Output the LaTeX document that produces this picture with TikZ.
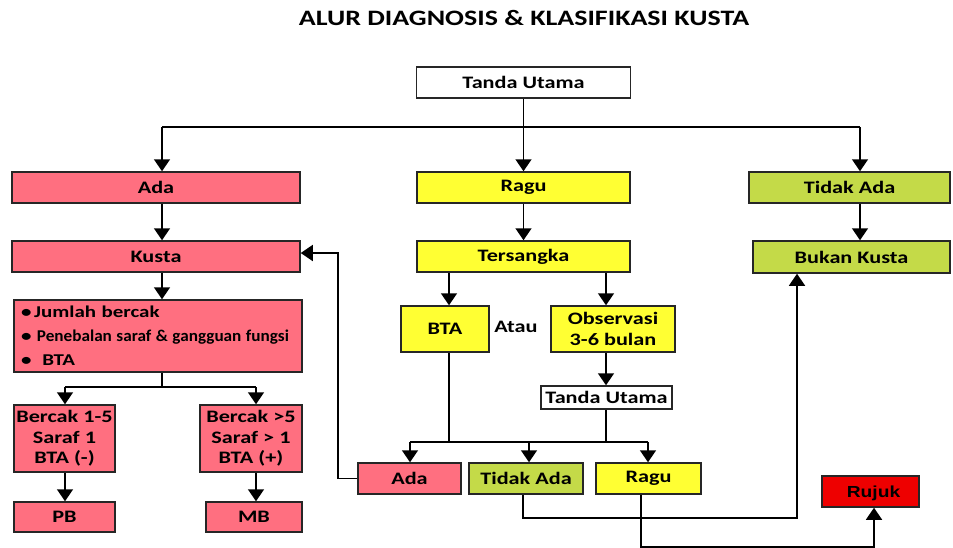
\documentclass[tikz,border=0pt]{standalone}
\usepackage{graphicx}
\usepackage{fontspec}
\setmainfont{Carlito}[FakeStretch=1.27]
\newfontfamily\arialbold{Liberation Sans}[FakeStretch=1.2]
\usetikzlibrary{arrows.meta}

\definecolor{kpink}{RGB}{255,111,128}
\definecolor{kyellow}{RGB}{255,255,51}
\definecolor{kgreen}{RGB}{196,218,72}
\definecolor{kred}{RGB}{238,0,0}

\begin{document}
\begin{tikzpicture}[x=1pt,y=-1pt,
  box/.style={draw=black!85,line width=1.5pt,inner sep=0pt,align=center,
    font=\bfseries\fontsize{17.5}{20.5}\selectfont},
  pinkbox/.style={box,fill=kpink},
  yellowbox/.style={box,fill=kyellow},
  greenbox/.style={box,fill=kgreen},
  arr/.style={line width=1.5pt,-{Triangle[width=16pt,length=12pt]}},
  ln/.style={line width=1.5pt}]
\useasboundingbox (0,0) rectangle (953,547);

% title
\node[font=\bfseries\fontsize{22}{26}\selectfont] (title) at (524,18) {ALUR DIAGNOSIS \& KLASIFIKASI KUSTA};

% top
\node[box,fill=white,minimum width=214pt,minimum height=31pt] (top) at (523.5,82.5) {Tanda Utama};

% left column
\node[pinkbox,minimum width=288pt,minimum height=72pt,text width=274pt,align=left,inner xsep=7pt,
  font=\bfseries\fontsize{16.5}{24}\selectfont] (crit) at (158,336)
  {\textbullet\,Jumlah bercak\\
   \textbullet\ \scalebox{0.82}[1]{Penebalan saraf \& gangguan fungsi}\\
   \textbullet\ \ BTA};
\node[pinkbox,minimum width=288pt,minimum height=31pt] (ada) at (156,187.5) {Ada};
\node[pinkbox,minimum width=288pt,minimum height=31pt] (kusta) at (156,256.5) {Kusta};
\node[pinkbox,minimum width=101pt,minimum height=67pt] (b15) at (64.5,438.5) {Bercak 1-5\\ Saraf 1\\ BTA (-)};
\node[pinkbox,minimum width=102pt,minimum height=67pt] (b5) at (251,438.5) {Bercak >5\\ Saraf > 1\\ BTA (+)};
\node[pinkbox,minimum width=101pt,minimum height=30pt] (pb) at (64.5,517) {PB};
\node[pinkbox,minimum width=96pt,minimum height=30pt] (mb) at (254,517) {MB};

% middle column
\node[yellowbox,minimum width=213pt,minimum height=31pt] (ragu) at (523.5,187.5) {Ragu};
\node[yellowbox,minimum width=213pt,minimum height=31pt] (ters) at (523.5,256.5) {Tersangka};
\node[yellowbox,minimum width=88pt,minimum height=46pt] (bta) at (445,329) {BTA};
\node[font=\bfseries\fontsize{17.5}{20}\selectfont] (atau) at (516,327) {Atau};
\node[yellowbox,minimum width=124pt,minimum height=46pt] (obs) at (613,329) {Observasi\\ 3-6 bulan};
\node[box,fill=white,minimum width=131pt,minimum height=23pt] (tu2) at (606.5,397.5) {Tanda Utama};
\node[pinkbox,minimum width=103pt,minimum height=31pt] (ada2) at (409.5,478.5) {Ada};
\node[greenbox,minimum width=114pt,minimum height=31pt] (tid2) at (526,478.5) {Tidak Ada};
\node[yellowbox,minimum width=105pt,minimum height=31pt] (ragu2) at (648.5,478.5) {Ragu};

% right column
\node[greenbox,minimum width=201pt,minimum height=31pt] (tid) at (849.5,187.5) {Tidak Ada};
\node[greenbox,minimum width=197pt,minimum height=32pt] (bukan) at (851.5,257) {Bukan Kusta};
\node[box,fill=kred,minimum width=97pt,minimum height=31pt,text depth=0pt,
  font=\arialbold\bfseries\fontsize{16}{18}\selectfont] (rujuk) at (870.5,491.5) {\hspace*{6pt}Rujuk};

% branching below the top box
\coordinate (jL) at (162,127);
\coordinate (jR) at (860,127);
\draw[ln] (jL) -- (jR);
\draw[arr] (top.south) -- (ragu.north);
\draw[arr] (jL) -- (jL |- ada.north);
\draw[arr] (jR) -- (jR |- tid.north);

% left column flow
\draw[arr] (ada.south -| jL) -- (kusta.north -| jL);
\draw[arr] (kusta.south -| jL) -- (crit.north -| jL);
\coordinate (sp) at (162,387);
\coordinate (sL) at (65,387);
\coordinate (sR) at (256,387);
\draw[ln] (crit.south -| sp) -- (sp);
\draw[ln] (sL) -- (sR);
\draw[arr] (sL) -- (sL |- b15.north);
\draw[arr] (sR) -- (sR |- b5.north);
\draw[arr] (b15.south -| sL) -- (pb.north -| sL);
\draw[arr] (b5.south -| sR) -- (mb.north -| sR);

% middle column flow
\coordinate (bx) at (449,442);
\coordinate (tx) at (606,442);
\coordinate (m1) at (410,442);
\coordinate (m2) at (529,442);
\coordinate (m3) at (648,442);
\draw[arr] (ragu.south) -- (ters.north);
\draw[arr] (ters.south -| bx) -- (bta.north -| bx);
\draw[arr] (ters.south -| tx) -- (obs.north -| tx);
\draw[arr] (obs.south -| tx) -- (tu2.north -| tx);
\draw[ln] (bta.south -| bx) -- (bx);
\draw[ln] (tu2.south -| tx) -- (tx);
\draw[ln] (m1) -- (m3);
\draw[arr] (m1) -- (m1 |- ada2.north);
\draw[arr] (m2) -- (m2 |- tid2.north);
\draw[arr] (m3) -- (m3 |- ragu2.north);

% return paths
\coordinate (bk) at (338,253);
\draw[arr] (ada2.west) -| (bk) -- (bk -| kusta.east);
\coordinate (t2) at (523,518);
\coordinate (bkx) at (797,518);
\draw[arr] (tid2.south -| t2) -- (t2) -- (bkx) -- (bkx |- bukan.south);
\coordinate (r2) at (641,547);
\coordinate (rjx) at (874,547);
\draw[arr] (ragu2.south -| r2) -- (r2) -- (rjx) -- (rjx |- rujuk.south);

% right column flow
\draw[arr] (tid.south -| jR) -- (bukan.north -| jR);
\end{tikzpicture}
\end{document}
